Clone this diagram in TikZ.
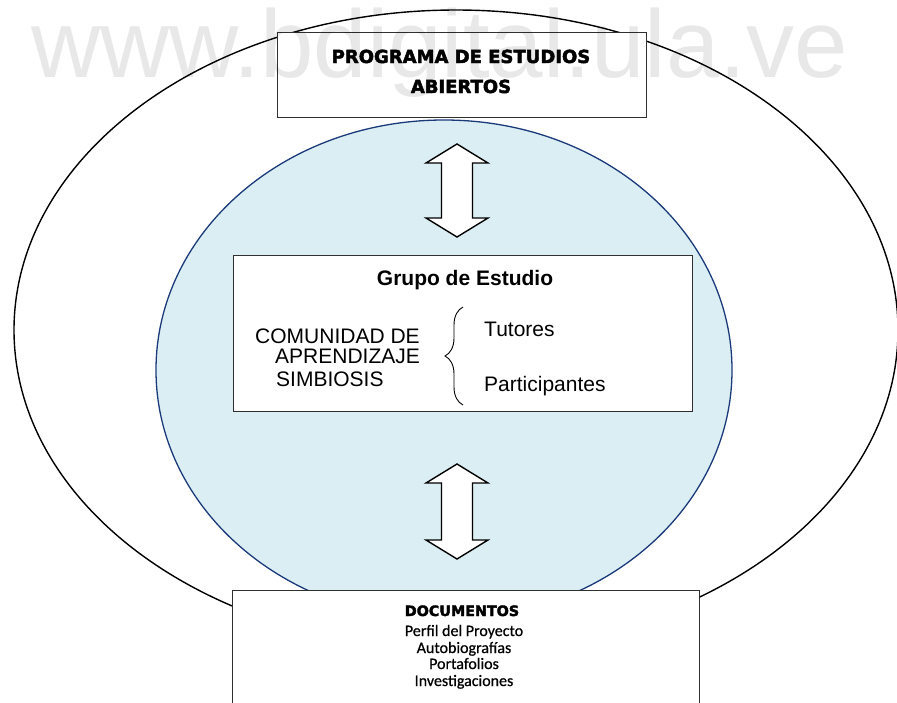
\documentclass[tikz,border=0pt]{standalone}
\usepackage{fontspec}
\setmainfont{Liberation Sans}
\newfontfamily\heavyfont[FakeBold=2.5]{DejaVu Sans Bold}
\newfontfamily\docfont[FakeBold=0.6]{Carlito}
\usetikzlibrary{decorations.pathreplacing}
\definecolor{innerfill}{HTML}{DAEEF3}
\definecolor{innerline}{HTML}{1B3A7A}
\definecolor{boxline}{HTML}{303030}
\tikzset{
  boxstyle/.style={draw=boxline, line width=1pt, fill=white},
  arrowstyle/.style={draw=black, line width=1.4pt, fill=white, line join=miter},
  txt/.style={inner sep=0pt, anchor=base},
  txtl/.style={inner sep=0pt, anchor=base west},
  arialtxt/.style={font=\fontsize{21}{22}\selectfont},
  heavytxt/.style={font=\heavyfont\fontsize{18}{20}\selectfont},
  doctxt/.style={font=\docfont\fontsize{16}{17}\selectfont},
}
\newcommand\blockarrow[3]{%
  \filldraw[arrowstyle] (#1,#2) -- (#1+31,#2+19) -- (#1+15.5,#2+19) -- (#1+15.5,#3-19)
    -- (#1+31,#3-19) -- (#1,#3) -- (#1-31,#3-19) -- (#1-15.5,#3-19) -- (#1-15.5,#2+19)
    -- (#1-31,#2+19) -- cycle;}
\begin{document}
\begin{tikzpicture}[x=1pt,y=-1pt]
\useasboundingbox (0,0) rectangle (897,702);
\clip (0,0) rectangle (897,702);
% outer ellipse
\draw[line width=1.4pt, black] (456,330) ellipse [x radius=442, y radius=320];
% inner ellipse
\filldraw[fill=innerfill, draw=innerline, line width=1.3pt] (444,370) ellipse [x radius=288, y radius=250];
% boxes
\node[boxstyle, minimum width=369pt, minimum height=85pt, inner sep=0pt] (prog) at (461.5,74.5) {};
\node[boxstyle, minimum width=459pt, minimum height=156pt, inner sep=0pt] (grupo) at (462.5,333) {};
\node[boxstyle, minimum width=467pt, minimum height=140pt, inner sep=0pt] (docs) at (465.5,660) {};
% block arrows
\blockarrow{457}{144}{237}
\blockarrow{457}{464}{559}
% top box text
\node[txt, heavytxt] (p1) at (461,63) {PROGRAMA DE ESTUDIOS};
\node[txt, heavytxt] (p2) at (461,93) {ABIERTOS};
% middle box text
\node[txt, arialtxt, font=\bfseries\fontsize{21}{22}\selectfont] (g0) at (465,285) {Grupo de Estudio};
\node[txtl, arialtxt] (g1) at (255,343) {COMUNIDAD DE};
\node[txtl, arialtxt] (g2) at (275,363) {APRENDIZAJE};
\node[txtl, arialtxt] (g3) at (276,386) {SIMBIOSIS};
\node[txtl, arialtxt] (g4) at (484,336) {Tutores};
\node[txtl, arialtxt] (g5) at (484,391) {Participantes};
\coordinate (brb) at (463,405);
\coordinate (brt) at (463,307);
\draw[line width=0.9pt, decorate, decoration={brace, amplitude=18pt}] (brb) -- (brt);
% bottom box text
\node[txt, font=\heavyfont\fontsize{14.3}{16}\selectfont] (d0) at (462,616) {DOCUMENTOS};
\node[txt, doctxt] (d1) at (464,636) {Perfil del Proyecto};
\node[txt, doctxt] (d2) at (464,653) {Autobiografías};
\node[txt, doctxt] (d3) at (464,669) {Portafolios};
\node[txt, doctxt] (d4) at (464,686) {Investigaciones};
% watermark
\node[txtl, text=black, text opacity=0.09, font=\fontsize{96}{100}\selectfont] (wm) at (31,77) {www.bdigital.ula.ve};
\end{tikzpicture}
\end{document}
